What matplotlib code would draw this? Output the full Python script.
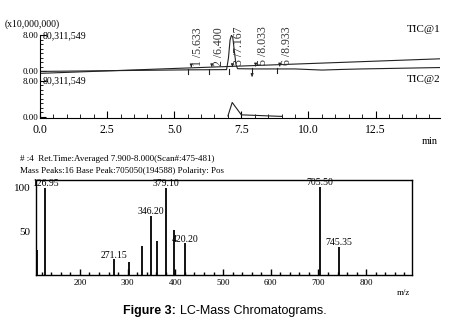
import matplotlib
matplotlib.use("Agg")
import matplotlib.pyplot as plt
from matplotlib.ticker import MultipleLocator
import numpy as np

plt.rcParams['font.family'] = ['Liberation Serif', 'DejaVu Serif']

# --- chromatogram (units of 10,000,000) ---
tic1_offset = 10.1          # second trace drawn above the first
tic1_a_time = [0.0, 14.9]
tic1_a_int = [-0.43, 2.8]
tic1_b_time = [0.0, 5.6, 6.95, 7.02, 7.08, 7.13, 7.18, 7.24, 7.30, 7.36, 8.0, 9.5, 10.5, 11.3, 12.0, 14.9]
tic1_b_int = [0.0, 0.35, 0.4, 3.0, 7.0, 8.0, 7.6, 4.5, 1.5, 0.6, 0.55, 0.55, 0.3, 0.45, 0.55, 0.86]
tic2_time = [7.0, 7.16, 7.5, 9.03]
tic2_int = [0.2, 3.2, 0.45, 0.1]
peak_times = [5.633, 6.400, 7.167, 8.033, 8.933]
peak_labels = ["1 /5.633", "2 /6.400", "3 /7.167", "5 /8.033", "6 /8.933"]

# --- mass spectrum ---
mz = [110, 127, 272, 303, 330, 348, 361, 381, 397, 421, 703, 743]
rel_int = [28, 99, 18, 15, 33, 67, 39, 99, 51, 36, 100, 32]
mz_labels = {127: "126.95", 272: "271.15", 348: "346.20", 381: "379.10",
             421: "420.20", 703: "705.50", 743: "745.35"}

fig = plt.figure(figsize=(4.55, 3.24), dpi=100)

# top panel: TIC traces
ax1 = fig.add_axes([40/455, 1-118/324, 400/455, 88/324])
ax1.plot(tic1_a_time, np.array(tic1_a_int) + tic1_offset, color='#222222', lw=0.8)
ax1.plot(tic1_b_time, np.array(tic1_b_int) + tic1_offset, color='#222222', lw=0.8)
ax1.plot(tic2_time, tic2_int, color='#222222', lw=0.8)
ax1.set_xlim(0, 14.9)
ax1.set_ylim(-0.25, 19.3)

for t, lab in zip(peak_times, peak_labels):
    base = tic1_offset + np.interp(t, tic1_b_time, tic1_b_int) if t < 7 or t > 7.4 else tic1_offset + 0.4
    ax1.annotate('', xy=(t, base), xytext=(t, base + 1.3),
                 arrowprops=dict(arrowstyle='-|>', color='#222222', lw=0.6,
                                 mutation_scale=4))
    ax1.plot([t - 0.12, t - 0.12], [base - 0.9, base + 0.1], color='#222222', lw=0.8)
    ax1.annotate(lab, xy=(t, base), xytext=(5, 3), textcoords='offset points',
                 rotation=90, ha='center', va='bottom', fontsize=8.5, color='#333333')
ax1.annotate('', xy=(7.9, tic1_offset - 1.8), xytext=(7.9, tic1_offset - 0.3),
             arrowprops=dict(arrowstyle='-|>', color='#222222', lw=0.6, mutation_scale=4))

ax1.spines['top'].set_visible(False)
ax1.spines['right'].set_visible(False)
ax1.spines['left'].set_bounds(-0.25, tic1_offset + 8)
ax1.set_yticks([0, 8, tic1_offset, tic1_offset + 8], ['0.00', '8.00', '0.00', '8.00'])
ax1.set_yticks(list(range(0, 9)) + [tic1_offset + i for i in range(9)], minor=True)
ax1.tick_params(axis='y', which='both', direction='in', labelsize=6.5, pad=1)
ax1.tick_params(axis='y', which='major', length=4)
ax1.tick_params(axis='y', which='minor', length=2.5)
ax1.xaxis.set_major_locator(MultipleLocator(2.5))
ax1.xaxis.set_minor_locator(MultipleLocator(0.5))
ax1.xaxis.set_major_formatter(matplotlib.ticker.FormatStrFormatter('%.1f'))
ax1.tick_params(axis='x', which='both', direction='in', labelsize=8.5, pad=4)
ax1.tick_params(axis='x', which='major', length=5)
ax1.tick_params(axis='x', which='minor', length=3)
for y in (8, tic1_offset + 8):
    ax1.text(0.1, y, '80,311,549', fontsize=7, va='center', ha='left')
ax1.text(14.3, tic1_offset + 9.2, 'TIC@1', fontsize=8, ha='center', va='center')
ax1.text(14.3, 8.3, 'TIC@2', fontsize=8, ha='center', va='center')
fig.text(5/455, 1-24/324, '(x10,000,000)', fontsize=7, va='center')
fig.text(430/455, 1-142/324, 'min', fontsize=7.5, ha='center', va='center')

# bottom panel: mass spectrum
ax2 = fig.add_axes([36/455, 1-275/324, 376/455, 95/324])
ax2.vlines(mz, 0, rel_int, color='black', lw=1.3)
ax2.set_xlim(108, 896)
ax2.set_ylim(0, 108)
for m, r in zip(mz, rel_int):
    if m in mz_labels:
        ax2.annotate(mz_labels[m], xy=(m, r), xytext=(0, 3), textcoords='offset points',
                     ha='center', va='center', fontsize=7)
ax2.xaxis.set_minor_locator(MultipleLocator(20))
ax2.set_xticks([200, 300, 400, 500, 600, 700, 800])
ax2.set_yticks([50, 100])
ax2.tick_params(axis='x', which='both', direction='in', labelsize=6.5, pad=3)
ax2.tick_params(axis='x', which='major', length=4, width=1)
ax2.tick_params(axis='x', which='minor', length=2.5, width=1)
ax2.tick_params(axis='y', direction='in', length=0, labelsize=8, pad=4)
for s in ax2.spines.values():
    s.set_linewidth(1.0)
fig.text(20/455, 1-159/324, '# :4  Ret.Time:Averaged 7.900-8.000(Scan#:475-481)', fontsize=6.5, va='center')
fig.text(20/455, 1-171/324, 'Mass Peaks:16 Base Peak:705050(194588) Polarity: Pos', fontsize=6.5, va='center')
fig.text(403/455, 1-293/324, 'm/z', fontsize=6.5, ha='center', va='center')

fig.text(176/455, 1-311/324, 'Figure 3:', family='Liberation Sans', weight='bold',
         fontsize=9, ha='right', va='center')
fig.text(180/455, 1-311/324, 'LC-Mass Chromatograms.', family='Liberation Sans',
         fontsize=9, ha='left', va='center')

fig.savefig('out.png', dpi=100)
